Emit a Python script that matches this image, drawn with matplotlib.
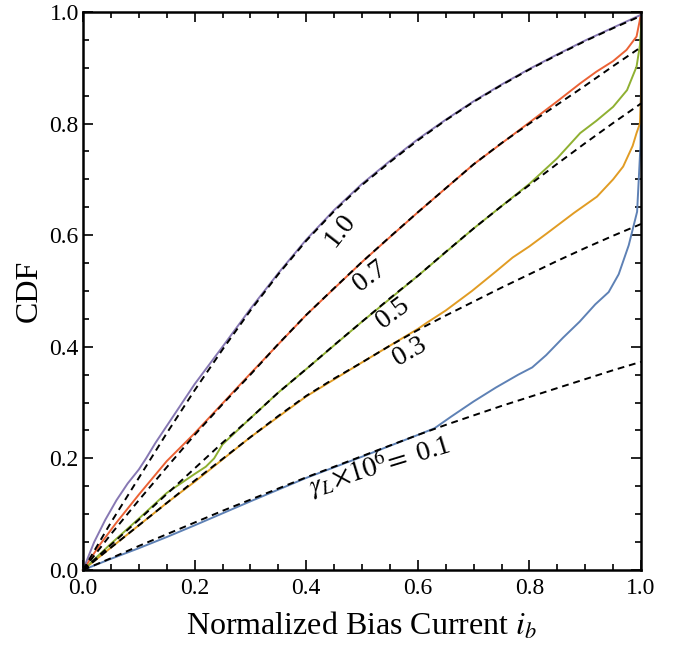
import matplotlib
matplotlib.use("Agg")
import matplotlib.pyplot as plt
from matplotlib.ticker import MultipleLocator, FormatStrFormatter

plt.rcParams['font.family'] = ['Liberation Serif', 'DejaVu Serif']
plt.rcParams['mathtext.fontset'] = 'stix'

# theory curves (dashed), shared bias grid
ib_fit = [0, 0.05, 0.1, 0.15, 0.2, 0.25, 0.3, 0.35, 0.4, 0.45, 0.5,
          0.55, 0.6, 0.65, 0.7, 0.75, 0.8, 0.85, 0.9, 0.95, 1.0]
fit_01 = [0, 0.021, 0.043, 0.064, 0.085, 0.106, 0.126, 0.146, 0.166, 0.185, 0.204,
          0.223, 0.242, 0.26, 0.277, 0.294, 0.31, 0.326, 0.342, 0.358, 0.373]
fit_03 = [0, 0.04, 0.08, 0.12, 0.16, 0.199, 0.238, 0.276, 0.312, 0.343, 0.372,
          0.402, 0.43, 0.456, 0.481, 0.506, 0.53, 0.554, 0.577, 0.599, 0.62]
fit_05 = [0, 0.045, 0.09, 0.136, 0.182, 0.228, 0.272, 0.318, 0.36, 0.403, 0.445,
          0.487, 0.527, 0.57, 0.612, 0.652, 0.69, 0.728, 0.765, 0.801, 0.836]
fit_07 = [0, 0.064, 0.125, 0.184, 0.242, 0.297, 0.35, 0.405, 0.457, 0.505, 0.552,
          0.597, 0.641, 0.684, 0.727, 0.765, 0.80, 0.834, 0.868, 0.903, 0.937]
fit_10 = [0, 0.085, 0.165, 0.245, 0.322, 0.395, 0.465, 0.53, 0.59, 0.643, 0.69,
          0.731, 0.77, 0.806, 0.839, 0.869, 0.897, 0.923, 0.948, 0.971, 0.993]

# measured CDFs
ib_01 = [0, 0.05, 0.1, 0.15, 0.2, 0.3, 0.4, 0.5, 0.6, 0.63, 0.66, 0.7, 0.74, 0.78,
         0.805, 0.83, 0.86, 0.89, 0.918, 0.942, 0.96, 0.978, 0.993, 0.999, 1.0, 1.0]
cdf_01 = [0, 0.02, 0.039, 0.059, 0.08, 0.123, 0.165, 0.203, 0.242, 0.254, 0.275, 0.302,
          0.327, 0.35, 0.363, 0.385, 0.416, 0.445, 0.476, 0.498, 0.53, 0.582, 0.642,
          0.76, 0.88, 1.0]
ib_03 = [0, 0.05, 0.1, 0.15, 0.2, 0.25, 0.3, 0.4, 0.5, 0.55, 0.6, 0.616, 0.65, 0.697,
         0.74, 0.77, 0.8, 0.831, 0.88, 0.921, 0.95, 0.968, 0.985, 0.992, 0.998, 1.0, 1.0]
cdf_03 = [0, 0.04, 0.08, 0.12, 0.158, 0.198, 0.238, 0.311, 0.372, 0.402, 0.432, 0.443,
          0.465, 0.50, 0.535, 0.56, 0.58, 0.603, 0.64, 0.669, 0.70, 0.723, 0.76, 0.783,
          0.80, 0.85, 1.0]
ib_05 = [0, 0.05, 0.1, 0.15, 0.2, 0.22, 0.235, 0.25, 0.3, 0.35, 0.4, 0.5, 0.6, 0.7,
         0.8, 0.85, 0.891, 0.92, 0.95, 0.975, 0.992, 0.998, 1.0, 1.0]
cdf_05 = [0, 0.047, 0.092, 0.138, 0.172, 0.185, 0.2, 0.225, 0.272, 0.318, 0.36, 0.445,
          0.527, 0.612, 0.692, 0.738, 0.783, 0.805, 0.83, 0.86, 0.902, 0.94, 0.97, 1.0]
ib_07 = [0, 0.03, 0.06, 0.1, 0.15, 0.2, 0.3, 0.4, 0.5, 0.6, 0.7, 0.8, 0.85, 0.891,
         0.92, 0.95, 0.974, 0.992, 0.998, 1.0]
cdf_07 = [0, 0.045, 0.085, 0.135, 0.195, 0.245, 0.352, 0.457, 0.552, 0.641, 0.727,
          0.802, 0.84, 0.872, 0.893, 0.912, 0.932, 0.956, 0.986, 1.0]
ib_10 = [0, 0.02, 0.04, 0.06, 0.08, 0.1, 0.113, 0.13, 0.15, 0.2, 0.25, 0.3, 0.35,
         0.4, 0.45, 0.5, 0.55, 0.6, 0.65, 0.7, 0.75, 0.8, 0.85, 0.9, 0.95, 1.0]
cdf_10 = [0, 0.05, 0.09, 0.125, 0.155, 0.18, 0.2, 0.228, 0.258, 0.333, 0.4, 0.468,
          0.532, 0.592, 0.645, 0.692, 0.733, 0.772, 0.807, 0.84, 0.87, 0.898, 0.924,
          0.949, 0.972, 0.995]

colors = {'0.1': '#5E81B5', '0.3': '#E19C24', '0.5': '#8FB032',
          '0.7': '#EB6235', '1.0': '#8778B3'}

fig = plt.figure(figsize=(6.82, 6.48), dpi=100)
ax = fig.add_axes([0.1217, 0.1204, 0.8182, 0.8611])

for x, y, key in [(ib_01, cdf_01, '0.1'), (ib_03, cdf_03, '0.3'), (ib_05, cdf_05, '0.5'),
                  (ib_07, cdf_07, '0.7'), (ib_10, cdf_10, '1.0')]:
    ax.plot(x, y, color=colors[key], lw=1.4, solid_joinstyle='round', clip_on=False)

for y in [fit_01, fit_03, fit_05, fit_07, fit_10]:
    ax.plot(ib_fit, y, color='black', lw=1.4, ls=(0, (3.5, 2.5)))

ax.set_xlim(0, 1)
ax.set_ylim(0, 1)
ax.xaxis.set_major_locator(MultipleLocator(0.2))
ax.yaxis.set_major_locator(MultipleLocator(0.2))
ax.xaxis.set_minor_locator(MultipleLocator(0.05))
ax.yaxis.set_minor_locator(MultipleLocator(0.05))
ax.xaxis.set_major_formatter(FormatStrFormatter('%.1f'))
ax.yaxis.set_major_formatter(FormatStrFormatter('%.1f'))
ax.tick_params(which='both', direction='in', top=True, right=True, width=1.2)
ax.tick_params(which='major', length=7, labelsize=17)
ax.tick_params(which='minor', length=4)
ax.tick_params(axis='x', which='major', pad=6)
ax.tick_params(axis='y', which='major', pad=3)
for s in ax.spines.values():
    s.set_linewidth(1.8)

ax.set_xlabel('Normalized Bias Current $i_b$', fontsize=23, labelpad=8)
ax.set_ylabel('CDF', fontsize=23, labelpad=4)

# curve labels
tsize = 20
ax.text(0.461, 0.609, '1.0', rotation=52, fontsize=tsize, ha='center', va='center')
ax.text(0.514, 0.526, '0.7', rotation=37, fontsize=tsize, ha='center', va='center')
ax.text(0.556, 0.460, '0.5', rotation=37, fontsize=tsize, ha='center', va='center')
ax.text(0.585, 0.391, '0.3', rotation=30, fontsize=tsize, ha='center', va='center')
ax.text(0.532, 0.188, r'$\gamma_L\!\times\!10^6\!=$ 0.1', rotation=17, fontsize=tsize,
        ha='center', va='center')

fig.savefig('out.png', dpi=100)
